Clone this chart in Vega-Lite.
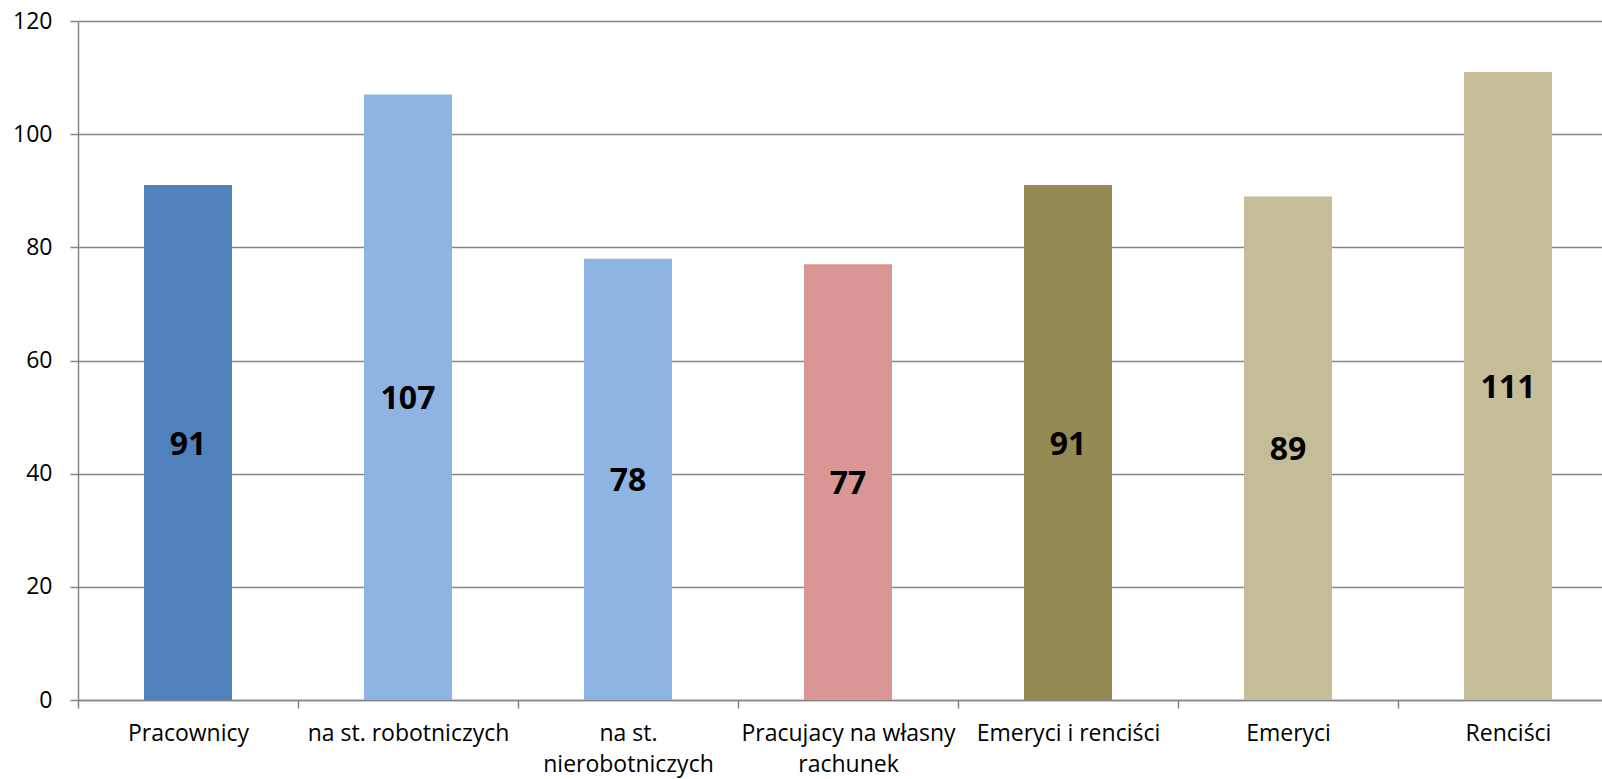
{
  "$schema": "https://vega.github.io/schema/vega-lite/v6.json",
  "width": 1524,
  "height": 679,
  "autosize": {"type": "none"},
  "padding": {"left": 78, "top": 21, "right": 0, "bottom": 79},
  "background": "white",
  "data": {
    "values": [
      {"category": "Pracownicy", "value": 91, "group": "a"},
      {"category": "na st. robotniczych", "value": 107, "group": "b"},
      {"category": "na st. nierobotniczych", "value": 78, "group": "b"},
      {"category": "Pracujacy na własny rachunek", "value": 77, "group": "c"},
      {"category": "Emeryci i renciści", "value": 91, "group": "d"},
      {"category": "Emeryci", "value": 89, "group": "e"},
      {"category": "Renciści", "value": 111, "group": "e"}
    ]
  },
  "config": {
    "view": {"stroke": null},
    "font": "Open Sans",
    "axis": {
      "labelFont": "Open Sans",
      "labelFontSize": 23,
      "labelColor": "#000000",
      "labelLimit": 0,
      "domainColor": "#868686",
      "domainWidth": 1.5,
      "tickColor": "#868686",
      "tickWidth": 1.5,
      "tickSize": 8,
      "gridColor": "#868686",
      "gridWidth": 1.5,
      "gridOpacity": 1,
      "title": null
    }
  },
  "encoding": {
    "x": {
      "field": "category",
      "type": "nominal",
      "sort": null,
      "scale": {"range": [0, 1540], "paddingInner": 0, "paddingOuter": 0},
      "axis": {
        "labelAngle": 0,
        "labelPadding": 14,
        "labelLineHeight": 31,
        "labelBaseline": "top",
        "tickBand": "extent",
        "labelExpr": "datum.value == 'na st. nierobotniczych' ? ['na st.', 'nierobotniczych'] : datum.value == 'Pracujacy na własny rachunek' ? ['Pracujacy na własny', 'rachunek'] : datum.value",
        "grid": false
      }
    }
  },
  "layer": [
    {
      "mark": {"type": "bar", "width": {"band": 0.4}},
      "encoding": {
        "y": {
          "field": "value",
          "type": "quantitative",
          "scale": {"domain": [0, 120]},
          "axis": {"values": [0, 20, 40, 60, 80, 100, 120], "grid": true, "labelPadding": 18, "labelFontSize": 23, "domain": true}
        },
        "color": {
          "field": "group",
          "type": "nominal",
          "scale": {"domain": ["a", "b", "c", "d", "e"], "range": ["#4F81BD", "#8EB4E3", "#D99694", "#948A54", "#C4BD97"]},
          "legend": null
        }
      }
    },
    {
      "transform": [{"calculate": "datum.value / 2", "as": "mid"}],
      "mark": {"type": "text", "font": "Open Sans", "fontWeight": "bold", "fontSize": 32, "color": "#000000", "baseline": "middle", "align": "center", "dy": 2},
      "encoding": {
        "y": {"field": "mid", "type": "quantitative"},
        "text": {"field": "value", "type": "quantitative"}
      }
    }
  ]
}
